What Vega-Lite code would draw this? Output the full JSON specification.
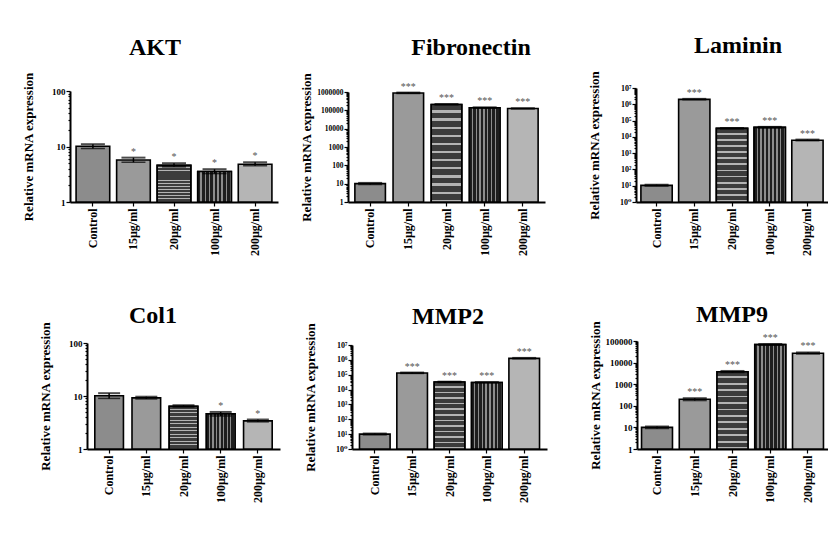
{
  "$schema": "https://vega.github.io/schema/vega-lite/v6.json",
  "padding": {"left": 21, "top": 34, "right": 0, "bottom": 0},
  "background": "white",
  "datasets": {
    "akt": [
      {"g": "Control", "v": 10.1, "lo": 9.2, "hi": 11.0, "sig": ""},
      {"g": "15µg/ml", "v": 5.7, "lo": 5.2, "hi": 6.3, "sig": "*"},
      {"g": "20µg/ml", "v": 4.6, "lo": 4.3, "hi": 5.0, "sig": "*"},
      {"g": "100µg/ml", "v": 3.55, "lo": 3.25, "hi": 3.9, "sig": "*"},
      {"g": "200µg/ml", "v": 4.8, "lo": 4.5, "hi": 5.2, "sig": "*"}
    ],
    "fib": [
      {"g": "Control", "v": 10, "lo": 9, "hi": 11, "sig": ""},
      {"g": "15µg/ml", "v": 880000, "lo": 830000, "hi": 930000, "sig": "***"},
      {"g": "20µg/ml", "v": 210000, "lo": 200000, "hi": 222000, "sig": "***"},
      {"g": "100µg/ml", "v": 138000, "lo": 130000, "hi": 146000, "sig": "***"},
      {"g": "200µg/ml", "v": 125000, "lo": 120000, "hi": 131000, "sig": "***"}
    ],
    "lam": [
      {"g": "Control", "v": 10.5, "lo": 9.5, "hi": 11.5, "sig": ""},
      {"g": "15µg/ml", "v": 2000000, "lo": 1900000, "hi": 2150000, "sig": "***"},
      {"g": "20µg/ml", "v": 33000, "lo": 31000, "hi": 35000, "sig": "***"},
      {"g": "100µg/ml", "v": 38000, "lo": 35000, "hi": 41000, "sig": "***"},
      {"g": "200µg/ml", "v": 6200, "lo": 5800, "hi": 6800, "sig": "***"}
    ],
    "col": [
      {"g": "Control", "v": 10.1, "lo": 9.0, "hi": 11.3, "sig": ""},
      {"g": "15µg/ml", "v": 9.2, "lo": 8.8, "hi": 9.7, "sig": ""},
      {"g": "20µg/ml", "v": 6.4, "lo": 6.2, "hi": 6.7, "sig": ""},
      {"g": "100µg/ml", "v": 4.6, "lo": 4.2, "hi": 5.0, "sig": "*"},
      {"g": "200µg/ml", "v": 3.4, "lo": 3.25, "hi": 3.6, "sig": "*"}
    ],
    "mmp2": [
      {"g": "Control", "v": 10, "lo": 9, "hi": 11, "sig": ""},
      {"g": "15µg/ml", "v": 130000, "lo": 122000, "hi": 140000, "sig": "***"},
      {"g": "20µg/ml", "v": 32000, "lo": 30000, "hi": 34000, "sig": "***"},
      {"g": "100µg/ml", "v": 30000, "lo": 28000, "hi": 32000, "sig": "***"},
      {"g": "200µg/ml", "v": 1250000, "lo": 1180000, "hi": 1350000, "sig": "***"}
    ],
    "mmp9": [
      {"g": "Control", "v": 10, "lo": 9, "hi": 11, "sig": ""},
      {"g": "15µg/ml", "v": 200, "lo": 175, "hi": 225, "sig": "***"},
      {"g": "20µg/ml", "v": 3800, "lo": 3500, "hi": 4100, "sig": "***"},
      {"g": "100µg/ml", "v": 68000, "lo": 64000, "hi": 72000, "sig": "***"},
      {"g": "200µg/ml", "v": 27000, "lo": 25000, "hi": 29500, "sig": "***"}
    ]
  },
  "concat": [
    {
      "data": {"name": "akt"},
      "width": 218, "height": 114,
      "title": {"text": "AKT", "offset": 12, "dx": -24},
      "encoding": {
        "x": {"field": "g", "type": "nominal", "title": null, "sort": null, "scale": {"domain": ["Control","15µg/ml","20µg/ml","100µg/ml","200µg/ml"], "range": [0, 208], "paddingInner": 0.17, "paddingOuter": 0.15}},
        "y": {"field": "v", "type": "quantitative", "title": "Relative mRNA expression",
              "scale": {"type": "log", "domain": [1, 100], "range": [114, 3], "nice": false},
              "axis": {"values": [1,2,3,4,5,6,7,8,9,10,20,30,40,50,60,70,80,90,100],
                       "labelExpr": "abs(log(datum.value)/LN10-round(log(datum.value)/LN10))<0.001 ? format(datum.value, 'd') : ''",
                       "labelFontSize": 9,
                       "tickSize": {"condition": {"test": "abs(log(datum.value)/LN10-round(log(datum.value)/LN10))<0.001", "value": 4}, "value": 2}}}
      },
      "layer": [
        {"mark": {"type": "bar", "stroke": "#000", "strokeWidth": 1.6},
         "encoding": {"y2": {"datum": 1}, "fill": {"field": "g", "type": "nominal", "scale": {"domain": ["Control","15µg/ml","20µg/ml","100µg/ml","200µg/ml"], "range": ["#8c8c8c", "#9a9a9a", "#555555", "#3a3a3a", "#b5b5b5"]}, "legend": null}}},
        {"transform": [{"filter": "datum.g === '20µg/ml'"}],
         "encoding": {"y2": {"datum": 1}},
         "mark": {"type": "bar", "stroke": "#000", "strokeWidth": 1.6, "fill": {"gradient": "linear", "x1": 0, "y1": 0, "x2": 0, "y2": 1, "stops": [
          {"offset": 0, "color": "#3c3c3c"}, {"offset": 0.06, "color": "#3c3c3c"}, {"offset": 0.06, "color": "#b4b4b4"}, {"offset": 0.0833, "color": "#b4b4b4"},
          {"offset": 0.0833, "color": "#3c3c3c"}, {"offset": 0.1433, "color": "#3c3c3c"}, {"offset": 0.1433, "color": "#b4b4b4"}, {"offset": 0.1667, "color": "#b4b4b4"},
          {"offset": 0.1667, "color": "#3c3c3c"}, {"offset": 0.2267, "color": "#3c3c3c"}, {"offset": 0.2267, "color": "#b4b4b4"}, {"offset": 0.25, "color": "#b4b4b4"},
          {"offset": 0.25, "color": "#3c3c3c"}, {"offset": 0.31, "color": "#3c3c3c"}, {"offset": 0.31, "color": "#b4b4b4"}, {"offset": 0.3333, "color": "#b4b4b4"},
          {"offset": 0.3333, "color": "#3c3c3c"}, {"offset": 0.3933, "color": "#3c3c3c"}, {"offset": 0.3933, "color": "#b4b4b4"}, {"offset": 0.4167, "color": "#b4b4b4"},
          {"offset": 0.4167, "color": "#3c3c3c"}, {"offset": 0.4767, "color": "#3c3c3c"}, {"offset": 0.4767, "color": "#b4b4b4"}, {"offset": 0.5, "color": "#b4b4b4"},
          {"offset": 0.5, "color": "#3c3c3c"}, {"offset": 0.56, "color": "#3c3c3c"}, {"offset": 0.56, "color": "#b4b4b4"}, {"offset": 0.5833, "color": "#b4b4b4"},
          {"offset": 0.5833, "color": "#3c3c3c"}, {"offset": 0.6433, "color": "#3c3c3c"}, {"offset": 0.6433, "color": "#b4b4b4"}, {"offset": 0.6667, "color": "#b4b4b4"},
          {"offset": 0.6667, "color": "#3c3c3c"}, {"offset": 0.7267, "color": "#3c3c3c"}, {"offset": 0.7267, "color": "#b4b4b4"}, {"offset": 0.75, "color": "#b4b4b4"},
          {"offset": 0.75, "color": "#3c3c3c"}, {"offset": 0.81, "color": "#3c3c3c"}, {"offset": 0.81, "color": "#b4b4b4"}, {"offset": 0.8333, "color": "#b4b4b4"},
          {"offset": 0.8333, "color": "#3c3c3c"}, {"offset": 0.8933, "color": "#3c3c3c"}, {"offset": 0.8933, "color": "#b4b4b4"}, {"offset": 0.9167, "color": "#b4b4b4"},
          {"offset": 0.9167, "color": "#3c3c3c"}, {"offset": 0.9767, "color": "#3c3c3c"}, {"offset": 0.9767, "color": "#b4b4b4"}, {"offset": 1, "color": "#b4b4b4"}]}}},
        {"transform": [{"filter": "datum.g === '100µg/ml'"}],
         "encoding": {"y2": {"datum": 1}},
         "mark": {"type": "bar", "stroke": "#000", "strokeWidth": 1.6, "fill": {"gradient": "linear", "x1": 0, "y1": 0, "x2": 1, "y2": 0, "stops": [
          {"offset": 0, "color": "#1e1e1e"}, {"offset": 0.08, "color": "#1e1e1e"}, {"offset": 0.08, "color": "#8c8c8c"}, {"offset": 0.125, "color": "#8c8c8c"},
          {"offset": 0.125, "color": "#1e1e1e"}, {"offset": 0.205, "color": "#1e1e1e"}, {"offset": 0.205, "color": "#8c8c8c"}, {"offset": 0.25, "color": "#8c8c8c"},
          {"offset": 0.25, "color": "#1e1e1e"}, {"offset": 0.33, "color": "#1e1e1e"}, {"offset": 0.33, "color": "#8c8c8c"}, {"offset": 0.375, "color": "#8c8c8c"},
          {"offset": 0.375, "color": "#1e1e1e"}, {"offset": 0.455, "color": "#1e1e1e"}, {"offset": 0.455, "color": "#8c8c8c"}, {"offset": 0.5, "color": "#8c8c8c"},
          {"offset": 0.5, "color": "#1e1e1e"}, {"offset": 0.58, "color": "#1e1e1e"}, {"offset": 0.58, "color": "#8c8c8c"}, {"offset": 0.625, "color": "#8c8c8c"},
          {"offset": 0.625, "color": "#1e1e1e"}, {"offset": 0.705, "color": "#1e1e1e"}, {"offset": 0.705, "color": "#8c8c8c"}, {"offset": 0.75, "color": "#8c8c8c"},
          {"offset": 0.75, "color": "#1e1e1e"}, {"offset": 0.83, "color": "#1e1e1e"}, {"offset": 0.83, "color": "#8c8c8c"}, {"offset": 0.875, "color": "#8c8c8c"},
          {"offset": 0.875, "color": "#1e1e1e"}, {"offset": 0.955, "color": "#1e1e1e"}, {"offset": 0.955, "color": "#8c8c8c"}, {"offset": 1, "color": "#8c8c8c"}]}}},
        {"mark": {"type": "rule", "strokeWidth": 1.5, "color": "#000"},
         "encoding": {"y": {"field": "lo", "type": "quantitative", "title": "Relative mRNA expression"}, "y2": {"field": "hi"}}},
        {"mark": {"type": "tick", "thickness": 2, "size": 24, "color": "#000"},
         "encoding": {"y": {"field": "hi", "type": "quantitative", "title": "Relative mRNA expression"}}},
        {"mark": {"type": "tick", "thickness": 1.5, "size": 24, "color": "#000"},
         "encoding": {"y": {"field": "lo", "type": "quantitative", "title": "Relative mRNA expression"}}},
        {"mark": {"type": "text", "baseline": "bottom", "dy": -1, "fontSize": 10, "color": "#555"},
         "encoding": {"y": {"field": "hi", "type": "quantitative", "title": "Relative mRNA expression"}, "text": {"field": "sig"}}}
      ]
    },
    {
      "data": {"name": "fib"},
      "width": 228, "height": 114,
      "title": {"text": "Fibronectin", "offset": 12, "dx": 9},
      "encoding": {
        "x": {"field": "g", "type": "nominal", "title": null, "sort": null, "scale": {"domain": ["Control","15µg/ml","20µg/ml","100µg/ml","200µg/ml"], "range": [0, 197], "paddingInner": 0.2, "paddingOuter": 0.18}},
        "y": {"field": "v", "type": "quantitative", "title": "Relative mRNA expression",
              "scale": {"type": "log", "domain": [1, 1000000], "range": [114, 4], "nice": false},
              "axis": {"values": [1,2,3,4,5,6,7,8,9,10,20,30,40,50,60,70,80,90,100,200,300,400,500,600,700,800,900,1000,2000,3000,4000,5000,6000,7000,8000,9000,10000,20000,30000,40000,50000,60000,70000,80000,90000,100000,200000,300000,400000,500000,600000,700000,800000,900000,1000000],
                       "labelExpr": "abs(log(datum.value)/LN10-round(log(datum.value)/LN10))<0.001 ? format(datum.value, 'd') : ''",
                       "labelFontSize": 7.5,
                       "tickSize": {"condition": {"test": "abs(log(datum.value)/LN10-round(log(datum.value)/LN10))<0.001", "value": 4}, "value": 2}}}
      },
      "layer": [
        {"mark": {"type": "bar", "stroke": "#000", "strokeWidth": 1.6},
         "encoding": {"y2": {"datum": 1}, "fill": {"field": "g", "type": "nominal", "scale": {"domain": ["Control","15µg/ml","20µg/ml","100µg/ml","200µg/ml"], "range": ["#8c8c8c", "#9a9a9a", "#555555", "#3a3a3a", "#b5b5b5"]}, "legend": null}}},
        {"transform": [{"filter": "datum.g === '20µg/ml'"}],
         "encoding": {"y2": {"datum": 1}},
         "mark": {"type": "bar", "stroke": "#000", "strokeWidth": 1.6, "fill": {"gradient": "linear", "x1": 0, "y1": 0, "x2": 0, "y2": 1, "stops": [
          {"offset": 0, "color": "#3c3c3c"}, {"offset": 0.06, "color": "#3c3c3c"}, {"offset": 0.06, "color": "#b4b4b4"}, {"offset": 0.0833, "color": "#b4b4b4"},
          {"offset": 0.0833, "color": "#3c3c3c"}, {"offset": 0.1433, "color": "#3c3c3c"}, {"offset": 0.1433, "color": "#b4b4b4"}, {"offset": 0.1667, "color": "#b4b4b4"},
          {"offset": 0.1667, "color": "#3c3c3c"}, {"offset": 0.2267, "color": "#3c3c3c"}, {"offset": 0.2267, "color": "#b4b4b4"}, {"offset": 0.25, "color": "#b4b4b4"},
          {"offset": 0.25, "color": "#3c3c3c"}, {"offset": 0.31, "color": "#3c3c3c"}, {"offset": 0.31, "color": "#b4b4b4"}, {"offset": 0.3333, "color": "#b4b4b4"},
          {"offset": 0.3333, "color": "#3c3c3c"}, {"offset": 0.3933, "color": "#3c3c3c"}, {"offset": 0.3933, "color": "#b4b4b4"}, {"offset": 0.4167, "color": "#b4b4b4"},
          {"offset": 0.4167, "color": "#3c3c3c"}, {"offset": 0.4767, "color": "#3c3c3c"}, {"offset": 0.4767, "color": "#b4b4b4"}, {"offset": 0.5, "color": "#b4b4b4"},
          {"offset": 0.5, "color": "#3c3c3c"}, {"offset": 0.56, "color": "#3c3c3c"}, {"offset": 0.56, "color": "#b4b4b4"}, {"offset": 0.5833, "color": "#b4b4b4"},
          {"offset": 0.5833, "color": "#3c3c3c"}, {"offset": 0.6433, "color": "#3c3c3c"}, {"offset": 0.6433, "color": "#b4b4b4"}, {"offset": 0.6667, "color": "#b4b4b4"},
          {"offset": 0.6667, "color": "#3c3c3c"}, {"offset": 0.7267, "color": "#3c3c3c"}, {"offset": 0.7267, "color": "#b4b4b4"}, {"offset": 0.75, "color": "#b4b4b4"},
          {"offset": 0.75, "color": "#3c3c3c"}, {"offset": 0.81, "color": "#3c3c3c"}, {"offset": 0.81, "color": "#b4b4b4"}, {"offset": 0.8333, "color": "#b4b4b4"},
          {"offset": 0.8333, "color": "#3c3c3c"}, {"offset": 0.8933, "color": "#3c3c3c"}, {"offset": 0.8933, "color": "#b4b4b4"}, {"offset": 0.9167, "color": "#b4b4b4"},
          {"offset": 0.9167, "color": "#3c3c3c"}, {"offset": 0.9767, "color": "#3c3c3c"}, {"offset": 0.9767, "color": "#b4b4b4"}, {"offset": 1, "color": "#b4b4b4"}]}}},
        {"transform": [{"filter": "datum.g === '100µg/ml'"}],
         "encoding": {"y2": {"datum": 1}},
         "mark": {"type": "bar", "stroke": "#000", "strokeWidth": 1.6, "fill": {"gradient": "linear", "x1": 0, "y1": 0, "x2": 1, "y2": 0, "stops": [
          {"offset": 0, "color": "#1e1e1e"}, {"offset": 0.08, "color": "#1e1e1e"}, {"offset": 0.08, "color": "#8c8c8c"}, {"offset": 0.125, "color": "#8c8c8c"},
          {"offset": 0.125, "color": "#1e1e1e"}, {"offset": 0.205, "color": "#1e1e1e"}, {"offset": 0.205, "color": "#8c8c8c"}, {"offset": 0.25, "color": "#8c8c8c"},
          {"offset": 0.25, "color": "#1e1e1e"}, {"offset": 0.33, "color": "#1e1e1e"}, {"offset": 0.33, "color": "#8c8c8c"}, {"offset": 0.375, "color": "#8c8c8c"},
          {"offset": 0.375, "color": "#1e1e1e"}, {"offset": 0.455, "color": "#1e1e1e"}, {"offset": 0.455, "color": "#8c8c8c"}, {"offset": 0.5, "color": "#8c8c8c"},
          {"offset": 0.5, "color": "#1e1e1e"}, {"offset": 0.58, "color": "#1e1e1e"}, {"offset": 0.58, "color": "#8c8c8c"}, {"offset": 0.625, "color": "#8c8c8c"},
          {"offset": 0.625, "color": "#1e1e1e"}, {"offset": 0.705, "color": "#1e1e1e"}, {"offset": 0.705, "color": "#8c8c8c"}, {"offset": 0.75, "color": "#8c8c8c"},
          {"offset": 0.75, "color": "#1e1e1e"}, {"offset": 0.83, "color": "#1e1e1e"}, {"offset": 0.83, "color": "#8c8c8c"}, {"offset": 0.875, "color": "#8c8c8c"},
          {"offset": 0.875, "color": "#1e1e1e"}, {"offset": 0.955, "color": "#1e1e1e"}, {"offset": 0.955, "color": "#8c8c8c"}, {"offset": 1, "color": "#8c8c8c"}]}}},
        {"mark": {"type": "rule", "strokeWidth": 1.5, "color": "#000"},
         "encoding": {"y": {"field": "lo", "type": "quantitative", "title": "Relative mRNA expression"}, "y2": {"field": "hi"}}},
        {"mark": {"type": "tick", "thickness": 2, "size": 24, "color": "#000"},
         "encoding": {"y": {"field": "hi", "type": "quantitative", "title": "Relative mRNA expression"}}},
        {"mark": {"type": "tick", "thickness": 1.5, "size": 24, "color": "#000"},
         "encoding": {"y": {"field": "lo", "type": "quantitative", "title": "Relative mRNA expression"}}},
        {"mark": {"type": "text", "baseline": "bottom", "dy": -1, "fontSize": 10, "color": "#555"},
         "encoding": {"y": {"field": "hi", "type": "quantitative", "title": "Relative mRNA expression"}, "text": {"field": "sig"}}}
      ]
    },
    {
      "data": {"name": "lam"},
      "width": 192, "height": 114,
      "title": {"text": "Laminin", "offset": 12, "dx": 6},
      "encoding": {
        "x": {"field": "g", "type": "nominal", "title": null, "sort": null, "scale": {"domain": ["Control","15µg/ml","20µg/ml","100µg/ml","200µg/ml"], "range": [0, 192], "paddingInner": 0.17, "paddingOuter": 0.13}},
        "y": {"field": "v", "type": "quantitative", "title": "Relative mRNA expression",
              "scale": {"type": "log", "domain": [1, 10000000], "range": [114, 0], "nice": false},
              "axis": {"values": [1,2,3,4,5,6,7,8,9,10,20,30,40,50,60,70,80,90,100,200,300,400,500,600,700,800,900,1000,2000,3000,4000,5000,6000,7000,8000,9000,10000,20000,30000,40000,50000,60000,70000,80000,90000,100000,200000,300000,400000,500000,600000,700000,800000,900000,1000000,2000000,3000000,4000000,5000000,6000000,7000000,8000000,9000000,10000000],
                       "labelExpr": "abs(log(datum.value)/LN10-round(log(datum.value)/LN10))<0.001 ? '10' + ['⁰','¹','²','³','⁴','⁵','⁶','⁷'][round(log(datum.value)/LN10)] : ''",
                       "labelFontSize": 8,
                       "tickSize": {"condition": {"test": "abs(log(datum.value)/LN10-round(log(datum.value)/LN10))<0.001", "value": 4}, "value": 2}}}
      },
      "layer": [
        {"mark": {"type": "bar", "stroke": "#000", "strokeWidth": 1.6},
         "encoding": {"y2": {"datum": 1}, "fill": {"field": "g", "type": "nominal", "scale": {"domain": ["Control","15µg/ml","20µg/ml","100µg/ml","200µg/ml"], "range": ["#8c8c8c", "#9a9a9a", "#555555", "#3a3a3a", "#b5b5b5"]}, "legend": null}}},
        {"transform": [{"filter": "datum.g === '20µg/ml'"}],
         "encoding": {"y2": {"datum": 1}},
         "mark": {"type": "bar", "stroke": "#000", "strokeWidth": 1.6, "fill": {"gradient": "linear", "x1": 0, "y1": 0, "x2": 0, "y2": 1, "stops": [
          {"offset": 0, "color": "#3c3c3c"}, {"offset": 0.06, "color": "#3c3c3c"}, {"offset": 0.06, "color": "#b4b4b4"}, {"offset": 0.0833, "color": "#b4b4b4"},
          {"offset": 0.0833, "color": "#3c3c3c"}, {"offset": 0.1433, "color": "#3c3c3c"}, {"offset": 0.1433, "color": "#b4b4b4"}, {"offset": 0.1667, "color": "#b4b4b4"},
          {"offset": 0.1667, "color": "#3c3c3c"}, {"offset": 0.2267, "color": "#3c3c3c"}, {"offset": 0.2267, "color": "#b4b4b4"}, {"offset": 0.25, "color": "#b4b4b4"},
          {"offset": 0.25, "color": "#3c3c3c"}, {"offset": 0.31, "color": "#3c3c3c"}, {"offset": 0.31, "color": "#b4b4b4"}, {"offset": 0.3333, "color": "#b4b4b4"},
          {"offset": 0.3333, "color": "#3c3c3c"}, {"offset": 0.3933, "color": "#3c3c3c"}, {"offset": 0.3933, "color": "#b4b4b4"}, {"offset": 0.4167, "color": "#b4b4b4"},
          {"offset": 0.4167, "color": "#3c3c3c"}, {"offset": 0.4767, "color": "#3c3c3c"}, {"offset": 0.4767, "color": "#b4b4b4"}, {"offset": 0.5, "color": "#b4b4b4"},
          {"offset": 0.5, "color": "#3c3c3c"}, {"offset": 0.56, "color": "#3c3c3c"}, {"offset": 0.56, "color": "#b4b4b4"}, {"offset": 0.5833, "color": "#b4b4b4"},
          {"offset": 0.5833, "color": "#3c3c3c"}, {"offset": 0.6433, "color": "#3c3c3c"}, {"offset": 0.6433, "color": "#b4b4b4"}, {"offset": 0.6667, "color": "#b4b4b4"},
          {"offset": 0.6667, "color": "#3c3c3c"}, {"offset": 0.7267, "color": "#3c3c3c"}, {"offset": 0.7267, "color": "#b4b4b4"}, {"offset": 0.75, "color": "#b4b4b4"},
          {"offset": 0.75, "color": "#3c3c3c"}, {"offset": 0.81, "color": "#3c3c3c"}, {"offset": 0.81, "color": "#b4b4b4"}, {"offset": 0.8333, "color": "#b4b4b4"},
          {"offset": 0.8333, "color": "#3c3c3c"}, {"offset": 0.8933, "color": "#3c3c3c"}, {"offset": 0.8933, "color": "#b4b4b4"}, {"offset": 0.9167, "color": "#b4b4b4"},
          {"offset": 0.9167, "color": "#3c3c3c"}, {"offset": 0.9767, "color": "#3c3c3c"}, {"offset": 0.9767, "color": "#b4b4b4"}, {"offset": 1, "color": "#b4b4b4"}]}}},
        {"transform": [{"filter": "datum.g === '100µg/ml'"}],
         "encoding": {"y2": {"datum": 1}},
         "mark": {"type": "bar", "stroke": "#000", "strokeWidth": 1.6, "fill": {"gradient": "linear", "x1": 0, "y1": 0, "x2": 1, "y2": 0, "stops": [
          {"offset": 0, "color": "#1e1e1e"}, {"offset": 0.08, "color": "#1e1e1e"}, {"offset": 0.08, "color": "#8c8c8c"}, {"offset": 0.125, "color": "#8c8c8c"},
          {"offset": 0.125, "color": "#1e1e1e"}, {"offset": 0.205, "color": "#1e1e1e"}, {"offset": 0.205, "color": "#8c8c8c"}, {"offset": 0.25, "color": "#8c8c8c"},
          {"offset": 0.25, "color": "#1e1e1e"}, {"offset": 0.33, "color": "#1e1e1e"}, {"offset": 0.33, "color": "#8c8c8c"}, {"offset": 0.375, "color": "#8c8c8c"},
          {"offset": 0.375, "color": "#1e1e1e"}, {"offset": 0.455, "color": "#1e1e1e"}, {"offset": 0.455, "color": "#8c8c8c"}, {"offset": 0.5, "color": "#8c8c8c"},
          {"offset": 0.5, "color": "#1e1e1e"}, {"offset": 0.58, "color": "#1e1e1e"}, {"offset": 0.58, "color": "#8c8c8c"}, {"offset": 0.625, "color": "#8c8c8c"},
          {"offset": 0.625, "color": "#1e1e1e"}, {"offset": 0.705, "color": "#1e1e1e"}, {"offset": 0.705, "color": "#8c8c8c"}, {"offset": 0.75, "color": "#8c8c8c"},
          {"offset": 0.75, "color": "#1e1e1e"}, {"offset": 0.83, "color": "#1e1e1e"}, {"offset": 0.83, "color": "#8c8c8c"}, {"offset": 0.875, "color": "#8c8c8c"},
          {"offset": 0.875, "color": "#1e1e1e"}, {"offset": 0.955, "color": "#1e1e1e"}, {"offset": 0.955, "color": "#8c8c8c"}, {"offset": 1, "color": "#8c8c8c"}]}}},
        {"mark": {"type": "rule", "strokeWidth": 1.5, "color": "#000"},
         "encoding": {"y": {"field": "lo", "type": "quantitative", "title": "Relative mRNA expression"}, "y2": {"field": "hi"}}},
        {"mark": {"type": "tick", "thickness": 2, "size": 24, "color": "#000"},
         "encoding": {"y": {"field": "hi", "type": "quantitative", "title": "Relative mRNA expression"}}},
        {"mark": {"type": "tick", "thickness": 1.5, "size": 24, "color": "#000"},
         "encoding": {"y": {"field": "lo", "type": "quantitative", "title": "Relative mRNA expression"}}},
        {"mark": {"type": "text", "baseline": "bottom", "dy": -1, "fontSize": 10, "color": "#555"},
         "encoding": {"y": {"field": "hi", "type": "quantitative", "title": "Relative mRNA expression"}, "text": {"field": "sig"}}}
      ]
    },
    {
      "data": {"name": "col"},
      "width": 218, "height": 108,
      "title": {"text": "Col1", "offset": -7, "dx": -26},
      "encoding": {
        "x": {"field": "g", "type": "nominal", "title": null, "sort": null, "scale": {"domain": ["Control","15µg/ml","20µg/ml","100µg/ml","200µg/ml"], "range": [17, 210], "paddingInner": 0.23, "paddingOuter": 0.21}},
        "y": {"field": "v", "type": "quantitative", "title": "Relative mRNA expression",
              "scale": {"type": "log", "domain": [1, 100], "range": [108, 2], "nice": false},
              "axis": {"offset": -17, "values": [1,2,3,4,5,6,7,8,9,10,20,30,40,50,60,70,80,90,100],
                       "labelExpr": "abs(log(datum.value)/LN10-round(log(datum.value)/LN10))<0.001 ? format(datum.value, 'd') : ''",
                       "labelFontSize": 9,
                       "tickSize": {"condition": {"test": "abs(log(datum.value)/LN10-round(log(datum.value)/LN10))<0.001", "value": 4}, "value": 2}}}
      },
      "layer": [
        {"mark": {"type": "bar", "stroke": "#000", "strokeWidth": 1.6},
         "encoding": {"y2": {"datum": 1}, "fill": {"field": "g", "type": "nominal", "scale": {"domain": ["Control","15µg/ml","20µg/ml","100µg/ml","200µg/ml"], "range": ["#8c8c8c", "#9a9a9a", "#555555", "#3a3a3a", "#b5b5b5"]}, "legend": null}}},
        {"transform": [{"filter": "datum.g === '20µg/ml'"}],
         "encoding": {"y2": {"datum": 1}},
         "mark": {"type": "bar", "stroke": "#000", "strokeWidth": 1.6, "fill": {"gradient": "linear", "x1": 0, "y1": 0, "x2": 0, "y2": 1, "stops": [
          {"offset": 0, "color": "#3c3c3c"}, {"offset": 0.06, "color": "#3c3c3c"}, {"offset": 0.06, "color": "#b4b4b4"}, {"offset": 0.0833, "color": "#b4b4b4"},
          {"offset": 0.0833, "color": "#3c3c3c"}, {"offset": 0.1433, "color": "#3c3c3c"}, {"offset": 0.1433, "color": "#b4b4b4"}, {"offset": 0.1667, "color": "#b4b4b4"},
          {"offset": 0.1667, "color": "#3c3c3c"}, {"offset": 0.2267, "color": "#3c3c3c"}, {"offset": 0.2267, "color": "#b4b4b4"}, {"offset": 0.25, "color": "#b4b4b4"},
          {"offset": 0.25, "color": "#3c3c3c"}, {"offset": 0.31, "color": "#3c3c3c"}, {"offset": 0.31, "color": "#b4b4b4"}, {"offset": 0.3333, "color": "#b4b4b4"},
          {"offset": 0.3333, "color": "#3c3c3c"}, {"offset": 0.3933, "color": "#3c3c3c"}, {"offset": 0.3933, "color": "#b4b4b4"}, {"offset": 0.4167, "color": "#b4b4b4"},
          {"offset": 0.4167, "color": "#3c3c3c"}, {"offset": 0.4767, "color": "#3c3c3c"}, {"offset": 0.4767, "color": "#b4b4b4"}, {"offset": 0.5, "color": "#b4b4b4"},
          {"offset": 0.5, "color": "#3c3c3c"}, {"offset": 0.56, "color": "#3c3c3c"}, {"offset": 0.56, "color": "#b4b4b4"}, {"offset": 0.5833, "color": "#b4b4b4"},
          {"offset": 0.5833, "color": "#3c3c3c"}, {"offset": 0.6433, "color": "#3c3c3c"}, {"offset": 0.6433, "color": "#b4b4b4"}, {"offset": 0.6667, "color": "#b4b4b4"},
          {"offset": 0.6667, "color": "#3c3c3c"}, {"offset": 0.7267, "color": "#3c3c3c"}, {"offset": 0.7267, "color": "#b4b4b4"}, {"offset": 0.75, "color": "#b4b4b4"},
          {"offset": 0.75, "color": "#3c3c3c"}, {"offset": 0.81, "color": "#3c3c3c"}, {"offset": 0.81, "color": "#b4b4b4"}, {"offset": 0.8333, "color": "#b4b4b4"},
          {"offset": 0.8333, "color": "#3c3c3c"}, {"offset": 0.8933, "color": "#3c3c3c"}, {"offset": 0.8933, "color": "#b4b4b4"}, {"offset": 0.9167, "color": "#b4b4b4"},
          {"offset": 0.9167, "color": "#3c3c3c"}, {"offset": 0.9767, "color": "#3c3c3c"}, {"offset": 0.9767, "color": "#b4b4b4"}, {"offset": 1, "color": "#b4b4b4"}]}}},
        {"transform": [{"filter": "datum.g === '100µg/ml'"}],
         "encoding": {"y2": {"datum": 1}},
         "mark": {"type": "bar", "stroke": "#000", "strokeWidth": 1.6, "fill": {"gradient": "linear", "x1": 0, "y1": 0, "x2": 1, "y2": 0, "stops": [
          {"offset": 0, "color": "#1e1e1e"}, {"offset": 0.08, "color": "#1e1e1e"}, {"offset": 0.08, "color": "#8c8c8c"}, {"offset": 0.125, "color": "#8c8c8c"},
          {"offset": 0.125, "color": "#1e1e1e"}, {"offset": 0.205, "color": "#1e1e1e"}, {"offset": 0.205, "color": "#8c8c8c"}, {"offset": 0.25, "color": "#8c8c8c"},
          {"offset": 0.25, "color": "#1e1e1e"}, {"offset": 0.33, "color": "#1e1e1e"}, {"offset": 0.33, "color": "#8c8c8c"}, {"offset": 0.375, "color": "#8c8c8c"},
          {"offset": 0.375, "color": "#1e1e1e"}, {"offset": 0.455, "color": "#1e1e1e"}, {"offset": 0.455, "color": "#8c8c8c"}, {"offset": 0.5, "color": "#8c8c8c"},
          {"offset": 0.5, "color": "#1e1e1e"}, {"offset": 0.58, "color": "#1e1e1e"}, {"offset": 0.58, "color": "#8c8c8c"}, {"offset": 0.625, "color": "#8c8c8c"},
          {"offset": 0.625, "color": "#1e1e1e"}, {"offset": 0.705, "color": "#1e1e1e"}, {"offset": 0.705, "color": "#8c8c8c"}, {"offset": 0.75, "color": "#8c8c8c"},
          {"offset": 0.75, "color": "#1e1e1e"}, {"offset": 0.83, "color": "#1e1e1e"}, {"offset": 0.83, "color": "#8c8c8c"}, {"offset": 0.875, "color": "#8c8c8c"},
          {"offset": 0.875, "color": "#1e1e1e"}, {"offset": 0.955, "color": "#1e1e1e"}, {"offset": 0.955, "color": "#8c8c8c"}, {"offset": 1, "color": "#8c8c8c"}]}}},
        {"mark": {"type": "rule", "strokeWidth": 1.5, "color": "#000"},
         "encoding": {"y": {"field": "lo", "type": "quantitative", "title": "Relative mRNA expression"}, "y2": {"field": "hi"}}},
        {"mark": {"type": "tick", "thickness": 2, "size": 22, "color": "#000"},
         "encoding": {"y": {"field": "hi", "type": "quantitative", "title": "Relative mRNA expression"}}},
        {"mark": {"type": "tick", "thickness": 1.5, "size": 22, "color": "#000"},
         "encoding": {"y": {"field": "lo", "type": "quantitative", "title": "Relative mRNA expression"}}},
        {"mark": {"type": "text", "baseline": "bottom", "dy": -1, "fontSize": 10, "color": "#555"},
         "encoding": {"y": {"field": "hi", "type": "quantitative", "title": "Relative mRNA expression"}, "text": {"field": "sig"}}}
      ]
    },
    {
      "data": {"name": "mmp2"},
      "width": 228, "height": 108,
      "title": {"text": "MMP2", "offset": -7, "dx": -14},
      "encoding": {
        "x": {"field": "g", "type": "nominal", "title": null, "sort": null, "scale": {"domain": ["Control","15µg/ml","20µg/ml","100µg/ml","200µg/ml"], "range": [4, 199], "paddingInner": 0.18, "paddingOuter": 0.2}},
        "y": {"field": "v", "type": "quantitative", "title": "Relative mRNA expression",
              "scale": {"type": "log", "domain": [1, 10000000], "range": [108, 4], "nice": false},
              "axis": {"offset": -4, "values": [1,2,3,4,5,6,7,8,9,10,20,30,40,50,60,70,80,90,100,200,300,400,500,600,700,800,900,1000,2000,3000,4000,5000,6000,7000,8000,9000,10000,20000,30000,40000,50000,60000,70000,80000,90000,100000,200000,300000,400000,500000,600000,700000,800000,900000,1000000,2000000,3000000,4000000,5000000,6000000,7000000,8000000,9000000,10000000],
                       "labelExpr": "abs(log(datum.value)/LN10-round(log(datum.value)/LN10))<0.001 ? '10' + ['⁰','¹','²','³','⁴','⁵','⁶','⁷'][round(log(datum.value)/LN10)] : ''",
                       "labelFontSize": 8,
                       "tickSize": {"condition": {"test": "abs(log(datum.value)/LN10-round(log(datum.value)/LN10))<0.001", "value": 4}, "value": 2}}}
      },
      "layer": [
        {"mark": {"type": "bar", "stroke": "#000", "strokeWidth": 1.6},
         "encoding": {"y2": {"datum": 1}, "fill": {"field": "g", "type": "nominal", "scale": {"domain": ["Control","15µg/ml","20µg/ml","100µg/ml","200µg/ml"], "range": ["#8c8c8c", "#9a9a9a", "#555555", "#3a3a3a", "#b5b5b5"]}, "legend": null}}},
        {"transform": [{"filter": "datum.g === '20µg/ml'"}],
         "encoding": {"y2": {"datum": 1}},
         "mark": {"type": "bar", "stroke": "#000", "strokeWidth": 1.6, "fill": {"gradient": "linear", "x1": 0, "y1": 0, "x2": 0, "y2": 1, "stops": [
          {"offset": 0, "color": "#3c3c3c"}, {"offset": 0.06, "color": "#3c3c3c"}, {"offset": 0.06, "color": "#b4b4b4"}, {"offset": 0.0833, "color": "#b4b4b4"},
          {"offset": 0.0833, "color": "#3c3c3c"}, {"offset": 0.1433, "color": "#3c3c3c"}, {"offset": 0.1433, "color": "#b4b4b4"}, {"offset": 0.1667, "color": "#b4b4b4"},
          {"offset": 0.1667, "color": "#3c3c3c"}, {"offset": 0.2267, "color": "#3c3c3c"}, {"offset": 0.2267, "color": "#b4b4b4"}, {"offset": 0.25, "color": "#b4b4b4"},
          {"offset": 0.25, "color": "#3c3c3c"}, {"offset": 0.31, "color": "#3c3c3c"}, {"offset": 0.31, "color": "#b4b4b4"}, {"offset": 0.3333, "color": "#b4b4b4"},
          {"offset": 0.3333, "color": "#3c3c3c"}, {"offset": 0.3933, "color": "#3c3c3c"}, {"offset": 0.3933, "color": "#b4b4b4"}, {"offset": 0.4167, "color": "#b4b4b4"},
          {"offset": 0.4167, "color": "#3c3c3c"}, {"offset": 0.4767, "color": "#3c3c3c"}, {"offset": 0.4767, "color": "#b4b4b4"}, {"offset": 0.5, "color": "#b4b4b4"},
          {"offset": 0.5, "color": "#3c3c3c"}, {"offset": 0.56, "color": "#3c3c3c"}, {"offset": 0.56, "color": "#b4b4b4"}, {"offset": 0.5833, "color": "#b4b4b4"},
          {"offset": 0.5833, "color": "#3c3c3c"}, {"offset": 0.6433, "color": "#3c3c3c"}, {"offset": 0.6433, "color": "#b4b4b4"}, {"offset": 0.6667, "color": "#b4b4b4"},
          {"offset": 0.6667, "color": "#3c3c3c"}, {"offset": 0.7267, "color": "#3c3c3c"}, {"offset": 0.7267, "color": "#b4b4b4"}, {"offset": 0.75, "color": "#b4b4b4"},
          {"offset": 0.75, "color": "#3c3c3c"}, {"offset": 0.81, "color": "#3c3c3c"}, {"offset": 0.81, "color": "#b4b4b4"}, {"offset": 0.8333, "color": "#b4b4b4"},
          {"offset": 0.8333, "color": "#3c3c3c"}, {"offset": 0.8933, "color": "#3c3c3c"}, {"offset": 0.8933, "color": "#b4b4b4"}, {"offset": 0.9167, "color": "#b4b4b4"},
          {"offset": 0.9167, "color": "#3c3c3c"}, {"offset": 0.9767, "color": "#3c3c3c"}, {"offset": 0.9767, "color": "#b4b4b4"}, {"offset": 1, "color": "#b4b4b4"}]}}},
        {"transform": [{"filter": "datum.g === '100µg/ml'"}],
         "encoding": {"y2": {"datum": 1}},
         "mark": {"type": "bar", "stroke": "#000", "strokeWidth": 1.6, "fill": {"gradient": "linear", "x1": 0, "y1": 0, "x2": 1, "y2": 0, "stops": [
          {"offset": 0, "color": "#1e1e1e"}, {"offset": 0.08, "color": "#1e1e1e"}, {"offset": 0.08, "color": "#8c8c8c"}, {"offset": 0.125, "color": "#8c8c8c"},
          {"offset": 0.125, "color": "#1e1e1e"}, {"offset": 0.205, "color": "#1e1e1e"}, {"offset": 0.205, "color": "#8c8c8c"}, {"offset": 0.25, "color": "#8c8c8c"},
          {"offset": 0.25, "color": "#1e1e1e"}, {"offset": 0.33, "color": "#1e1e1e"}, {"offset": 0.33, "color": "#8c8c8c"}, {"offset": 0.375, "color": "#8c8c8c"},
          {"offset": 0.375, "color": "#1e1e1e"}, {"offset": 0.455, "color": "#1e1e1e"}, {"offset": 0.455, "color": "#8c8c8c"}, {"offset": 0.5, "color": "#8c8c8c"},
          {"offset": 0.5, "color": "#1e1e1e"}, {"offset": 0.58, "color": "#1e1e1e"}, {"offset": 0.58, "color": "#8c8c8c"}, {"offset": 0.625, "color": "#8c8c8c"},
          {"offset": 0.625, "color": "#1e1e1e"}, {"offset": 0.705, "color": "#1e1e1e"}, {"offset": 0.705, "color": "#8c8c8c"}, {"offset": 0.75, "color": "#8c8c8c"},
          {"offset": 0.75, "color": "#1e1e1e"}, {"offset": 0.83, "color": "#1e1e1e"}, {"offset": 0.83, "color": "#8c8c8c"}, {"offset": 0.875, "color": "#8c8c8c"},
          {"offset": 0.875, "color": "#1e1e1e"}, {"offset": 0.955, "color": "#1e1e1e"}, {"offset": 0.955, "color": "#8c8c8c"}, {"offset": 1, "color": "#8c8c8c"}]}}},
        {"mark": {"type": "rule", "strokeWidth": 1.5, "color": "#000"},
         "encoding": {"y": {"field": "lo", "type": "quantitative", "title": "Relative mRNA expression"}, "y2": {"field": "hi"}}},
        {"mark": {"type": "tick", "thickness": 2, "size": 24, "color": "#000"},
         "encoding": {"y": {"field": "hi", "type": "quantitative", "title": "Relative mRNA expression"}}},
        {"mark": {"type": "tick", "thickness": 1.5, "size": 24, "color": "#000"},
         "encoding": {"y": {"field": "lo", "type": "quantitative", "title": "Relative mRNA expression"}}},
        {"mark": {"type": "text", "baseline": "bottom", "dy": -1, "fontSize": 10, "color": "#555"},
         "encoding": {"y": {"field": "hi", "type": "quantitative", "title": "Relative mRNA expression"}, "text": {"field": "sig"}}}
      ]
    },
    {
      "data": {"name": "mmp9"},
      "width": 192, "height": 108,
      "title": {"text": "MMP9", "offset": -7, "dx": 0},
      "encoding": {
        "x": {"field": "g", "type": "nominal", "title": null, "sort": null, "scale": {"domain": ["Control","15µg/ml","20µg/ml","100µg/ml","200µg/ml"], "range": [1, 192], "paddingInner": 0.18, "paddingOuter": 0.12}},
        "y": {"field": "v", "type": "quantitative", "title": "Relative mRNA expression",
              "scale": {"type": "log", "domain": [1, 100000], "range": [108, 0], "nice": false},
              "axis": {"offset": -1, "values": [1,2,3,4,5,6,7,8,9,10,20,30,40,50,60,70,80,90,100,200,300,400,500,600,700,800,900,1000,2000,3000,4000,5000,6000,7000,8000,9000,10000,20000,30000,40000,50000,60000,70000,80000,90000,100000],
                       "labelExpr": "abs(log(datum.value)/LN10-round(log(datum.value)/LN10))<0.001 ? format(datum.value, 'd') : ''",
                       "labelFontSize": 9,
                       "tickSize": {"condition": {"test": "abs(log(datum.value)/LN10-round(log(datum.value)/LN10))<0.001", "value": 4}, "value": 2}}}
      },
      "layer": [
        {"mark": {"type": "bar", "stroke": "#000", "strokeWidth": 1.6},
         "encoding": {"y2": {"datum": 1}, "fill": {"field": "g", "type": "nominal", "scale": {"domain": ["Control","15µg/ml","20µg/ml","100µg/ml","200µg/ml"], "range": ["#8c8c8c", "#9a9a9a", "#555555", "#3a3a3a", "#b5b5b5"]}, "legend": null}}},
        {"transform": [{"filter": "datum.g === '20µg/ml'"}],
         "encoding": {"y2": {"datum": 1}},
         "mark": {"type": "bar", "stroke": "#000", "strokeWidth": 1.6, "fill": {"gradient": "linear", "x1": 0, "y1": 0, "x2": 0, "y2": 1, "stops": [
          {"offset": 0, "color": "#3c3c3c"}, {"offset": 0.06, "color": "#3c3c3c"}, {"offset": 0.06, "color": "#b4b4b4"}, {"offset": 0.0833, "color": "#b4b4b4"},
          {"offset": 0.0833, "color": "#3c3c3c"}, {"offset": 0.1433, "color": "#3c3c3c"}, {"offset": 0.1433, "color": "#b4b4b4"}, {"offset": 0.1667, "color": "#b4b4b4"},
          {"offset": 0.1667, "color": "#3c3c3c"}, {"offset": 0.2267, "color": "#3c3c3c"}, {"offset": 0.2267, "color": "#b4b4b4"}, {"offset": 0.25, "color": "#b4b4b4"},
          {"offset": 0.25, "color": "#3c3c3c"}, {"offset": 0.31, "color": "#3c3c3c"}, {"offset": 0.31, "color": "#b4b4b4"}, {"offset": 0.3333, "color": "#b4b4b4"},
          {"offset": 0.3333, "color": "#3c3c3c"}, {"offset": 0.3933, "color": "#3c3c3c"}, {"offset": 0.3933, "color": "#b4b4b4"}, {"offset": 0.4167, "color": "#b4b4b4"},
          {"offset": 0.4167, "color": "#3c3c3c"}, {"offset": 0.4767, "color": "#3c3c3c"}, {"offset": 0.4767, "color": "#b4b4b4"}, {"offset": 0.5, "color": "#b4b4b4"},
          {"offset": 0.5, "color": "#3c3c3c"}, {"offset": 0.56, "color": "#3c3c3c"}, {"offset": 0.56, "color": "#b4b4b4"}, {"offset": 0.5833, "color": "#b4b4b4"},
          {"offset": 0.5833, "color": "#3c3c3c"}, {"offset": 0.6433, "color": "#3c3c3c"}, {"offset": 0.6433, "color": "#b4b4b4"}, {"offset": 0.6667, "color": "#b4b4b4"},
          {"offset": 0.6667, "color": "#3c3c3c"}, {"offset": 0.7267, "color": "#3c3c3c"}, {"offset": 0.7267, "color": "#b4b4b4"}, {"offset": 0.75, "color": "#b4b4b4"},
          {"offset": 0.75, "color": "#3c3c3c"}, {"offset": 0.81, "color": "#3c3c3c"}, {"offset": 0.81, "color": "#b4b4b4"}, {"offset": 0.8333, "color": "#b4b4b4"},
          {"offset": 0.8333, "color": "#3c3c3c"}, {"offset": 0.8933, "color": "#3c3c3c"}, {"offset": 0.8933, "color": "#b4b4b4"}, {"offset": 0.9167, "color": "#b4b4b4"},
          {"offset": 0.9167, "color": "#3c3c3c"}, {"offset": 0.9767, "color": "#3c3c3c"}, {"offset": 0.9767, "color": "#b4b4b4"}, {"offset": 1, "color": "#b4b4b4"}]}}},
        {"transform": [{"filter": "datum.g === '100µg/ml'"}],
         "encoding": {"y2": {"datum": 1}},
         "mark": {"type": "bar", "stroke": "#000", "strokeWidth": 1.6, "fill": {"gradient": "linear", "x1": 0, "y1": 0, "x2": 1, "y2": 0, "stops": [
          {"offset": 0, "color": "#1e1e1e"}, {"offset": 0.08, "color": "#1e1e1e"}, {"offset": 0.08, "color": "#8c8c8c"}, {"offset": 0.125, "color": "#8c8c8c"},
          {"offset": 0.125, "color": "#1e1e1e"}, {"offset": 0.205, "color": "#1e1e1e"}, {"offset": 0.205, "color": "#8c8c8c"}, {"offset": 0.25, "color": "#8c8c8c"},
          {"offset": 0.25, "color": "#1e1e1e"}, {"offset": 0.33, "color": "#1e1e1e"}, {"offset": 0.33, "color": "#8c8c8c"}, {"offset": 0.375, "color": "#8c8c8c"},
          {"offset": 0.375, "color": "#1e1e1e"}, {"offset": 0.455, "color": "#1e1e1e"}, {"offset": 0.455, "color": "#8c8c8c"}, {"offset": 0.5, "color": "#8c8c8c"},
          {"offset": 0.5, "color": "#1e1e1e"}, {"offset": 0.58, "color": "#1e1e1e"}, {"offset": 0.58, "color": "#8c8c8c"}, {"offset": 0.625, "color": "#8c8c8c"},
          {"offset": 0.625, "color": "#1e1e1e"}, {"offset": 0.705, "color": "#1e1e1e"}, {"offset": 0.705, "color": "#8c8c8c"}, {"offset": 0.75, "color": "#8c8c8c"},
          {"offset": 0.75, "color": "#1e1e1e"}, {"offset": 0.83, "color": "#1e1e1e"}, {"offset": 0.83, "color": "#8c8c8c"}, {"offset": 0.875, "color": "#8c8c8c"},
          {"offset": 0.875, "color": "#1e1e1e"}, {"offset": 0.955, "color": "#1e1e1e"}, {"offset": 0.955, "color": "#8c8c8c"}, {"offset": 1, "color": "#8c8c8c"}]}}},
        {"mark": {"type": "rule", "strokeWidth": 1.5, "color": "#000"},
         "encoding": {"y": {"field": "lo", "type": "quantitative", "title": "Relative mRNA expression"}, "y2": {"field": "hi"}}},
        {"mark": {"type": "tick", "thickness": 2, "size": 24, "color": "#000"},
         "encoding": {"y": {"field": "hi", "type": "quantitative", "title": "Relative mRNA expression"}}},
        {"mark": {"type": "tick", "thickness": 1.5, "size": 24, "color": "#000"},
         "encoding": {"y": {"field": "lo", "type": "quantitative", "title": "Relative mRNA expression"}}},
        {"mark": {"type": "text", "baseline": "bottom", "dy": -1, "fontSize": 10, "color": "#555"},
         "encoding": {"y": {"field": "hi", "type": "quantitative", "title": "Relative mRNA expression"}, "text": {"field": "sig"}}}
      ]
    }
  ],
  "columns": 3,
  "bounds": "flush",
  "spacing": {"column": 60, "row": 139},
  "resolve": {"scale": {"fill": "independent"}},
  "config": {
    "font": "Liberation Serif, Times New Roman, DejaVu Serif, serif",
    "view": {"stroke": null},
    "axis": {"grid": false, "domainColor": "#000", "domainWidth": 2, "tickColor": "#000", "tickWidth": 1.2,
             "labelColor": "#000", "labelFont": "Liberation Serif, Times New Roman, DejaVu Serif, serif", "labelFontWeight": "bold",
             "titleFont": "Liberation Serif, Times New Roman, DejaVu Serif, serif", "titleFontWeight": "bold", "titleColor": "#000"},
    "axisX": {"labelAngle": -90, "labelFontSize": 12, "tickSize": 4, "labelPadding": 2},
    "axisY": {"titleFontSize": 13, "titleX": -35, "titleBaseline": "bottom", "labelOverlap": false, "labelPadding": 1},
    "text": {"font": "Liberation Serif, Times New Roman, DejaVu Serif, serif"},
    "title": {"font": "Liberation Serif, Times New Roman, DejaVu Serif, serif", "fontSize": 24, "fontWeight": "bold", "color": "#000", "anchor": "middle", "frame": "group"}
  }
}
